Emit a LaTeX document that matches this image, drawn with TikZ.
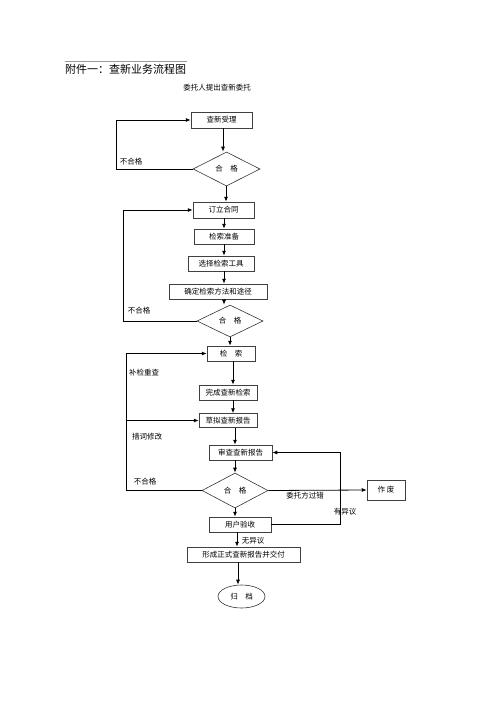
\documentclass[tikz,border=0pt]{standalone}
\usepackage{fontspec}
\setmainfont{Noto Sans CJK SC}
\usetikzlibrary{shapes.geometric,arrows.meta}
\tikzset{
  box/.style={draw=black!75,line width=0.5pt,inner sep=0pt,minimum height=15pt,font=\fontsize{7.5}{9}\selectfont},
  dia/.style={draw=black!80,line width=0.6pt,diamond,inner sep=0pt,font=\fontsize{7.5}{9}\selectfont},
  arr/.style={-{Latex[length=5pt,width=4pt]},line width=0.8pt},
  ln/.style={line width=0.6pt},
  lbl/.style={font=\fontsize{7.5}{9}\selectfont,inner sep=0pt}
}
\begin{document}
\begin{tikzpicture}[x=1pt,y=-1pt]
\useasboundingbox (0,0) rectangle (500,709);
% header
\draw[black!40,line width=0.6pt] (65,61) -- (187,61);
\node[anchor=west,inner sep=0pt,font=\fontsize{11}{13}\selectfont] (title) at (65,69) {附件一：查新业务流程图};
\node[lbl] (start) at (217,88) {委托人提出查新委托};
% nodes
\node[box,minimum width=61pt,minimum height=16pt] (b1) at (221.5,120) {查新受理};
\node[dia,minimum width=67pt,minimum height=34pt] (d1) at (226.5,169) {合\quad 格};
\node[box,minimum width=61pt,minimum height=16pt] (b2) at (223.5,210) {订立合同};
\node[box,minimum width=60pt] (b3) at (224,236.5) {检索准备};
\node[box,minimum width=66pt] (b4) at (221,263.5) {选择检索工具};
\node[box,minimum width=98pt] (b5) at (218,291.5) {确定检索方法和途径};
\node[dia,minimum width=66pt,minimum height=32pt] (d2) at (230,321) {合\quad 格};
\node[box,minimum width=48pt] (b6) at (231,353.5) {检\quad 索};
\node[box,minimum width=58pt] (b7) at (228,392.5) {完成查新检索};
\node[box,minimum width=58pt,minimum height=14pt] (b8) at (228,420.5) {草拟查新报告};
\node[box,minimum width=63pt] (b9) at (240.5,452.5) {审查查新报告};
\node[dia,minimum width=66pt,minimum height=35pt] (d3) at (235,490.5) {合\quad 格};
\node[box,minimum width=38pt,minimum height=20pt] (zf) at (386,490) {作\ 废};
\node[box,minimum width=62pt] (b10) at (240,524.5) {用户验收};
\node[box,minimum width=113pt] (b11) at (243.5,554.5) {形成正式查新报告并交付};
\node[draw=black!80,line width=0.6pt,ellipse,inner sep=0pt,minimum width=47pt,minimum height=23pt,font=\fontsize{7.5}{9}\selectfont] (gd) at (241.5,596.5) {归\quad 档};
% main flow
\draw[arr] (b1.south -| 223,0) -- (223,0 |- d1.north);
\draw[arr] (226,0 |- d1.south) -- (226,0 |- b2.north);
\draw[arr] (224,0 |- b2.south) -- (224,0 |- b3.north);
\draw[arr] (224,0 |- b3.south) -- (224,0 |- b4.north);
\draw[arr] (224,0 |- b4.south) -- (224,0 |- b5.north);
\draw[arr] (224,0 |- b5.south) -- (224,0 |- d2.north);
\draw[arr] (230,0 |- d2.south) -- (230,0 |- b6.north);
\draw[arr] (233,0 |- b6.south) -- (233,0 |- b7.north);
\draw[arr] (233,0 |- b7.south) -- (233,0 |- b8.north);
\draw[arr] (235,0 |- b8.south) -- (235,0 |- b9.north);
\draw[arr] (235,0 |- b9.south) -- (235,0 |- d3.north);
\draw[arr] (235,0 |- d3.south) -- (235,0 |- b10.north);
\draw[arr] (237,0 |- b10.south) -- (237,0 |- b11.north);
\draw[arr] (238,0 |- b11.south) -- (238,0 |- gd.north);
% loops
\draw[arr] (d1.west) -- (116,169) |- (b1.west);
\draw[arr] (d2.west) -- (123,321) |- (b2.west);
\draw[arr] (d3.west) -- (126,490.5) |- (b6.west);
\coordinate (br) at (126,420.5);
\draw[arr] (br) -- (b8.west);
\draw[arr] (d3.east) -- (zf.west);
\draw[arr] (b10.east) -- (340,524.5) |- (b9.east);
% labels
\node[lbl] (l1) at (131,162) {不合格};
\node[lbl] (l2) at (139,311) {不合格};
\node[lbl] (l3) at (144,373) {补检重查};
\node[lbl] (l4) at (147,437) {措词修改};
\node[lbl] (l5) at (145,482) {不合格};
\node[lbl] (l6) at (305,496) {委托方过错};
\node[lbl] (l7) at (345,512) {有异议};
\node[lbl] (l8) at (253,541) {无异议};
\end{tikzpicture}
\end{document}
